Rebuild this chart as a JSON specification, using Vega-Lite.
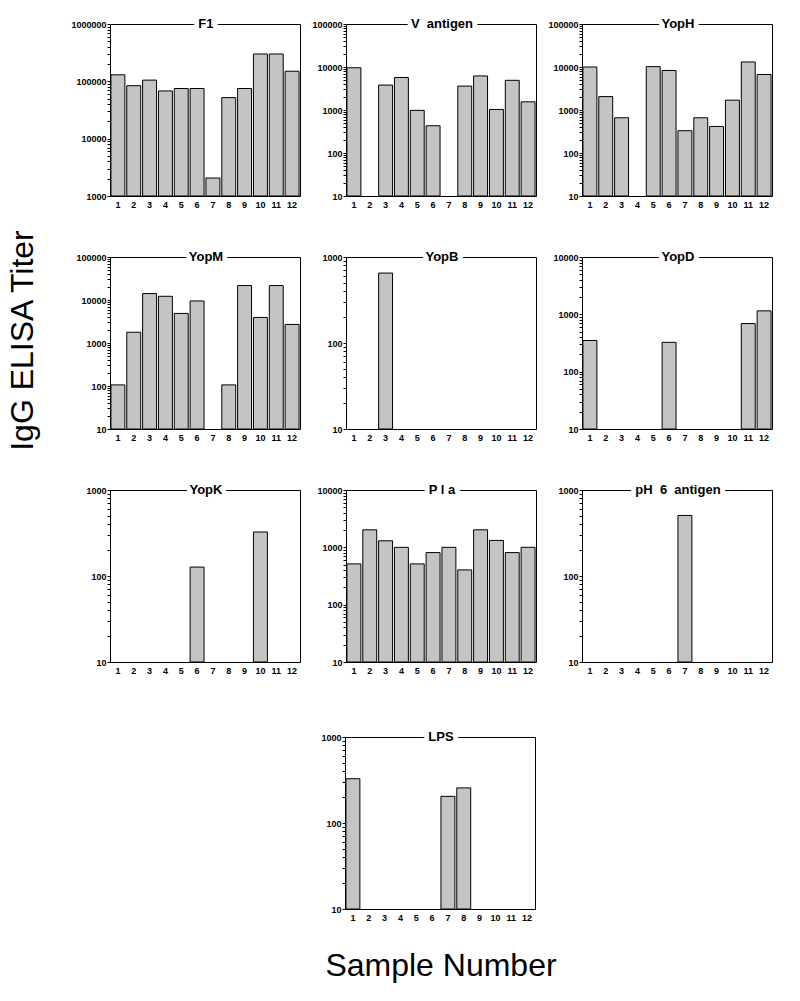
{
  "$schema": "https://vega.github.io/schema/vega-lite/v6.json",
  "background": "white",
  "padding": {"left": 7, "top": 17, "right": 5, "bottom": 5},
  "title": {"text": "Sample Number", "orient": "bottom", "anchor": "middle", "font": "Liberation Sans", "fontSize": 32, "fontWeight": "normal", "color": "#000", "offset": 28, "dx": 51},
  "datasets": {
    "titers": [
      {"panel": "F1", "sample": 1, "titer": 130000},
      {"panel": "F1", "sample": 2, "titer": 84000},
      {"panel": "F1", "sample": 3, "titer": 105000},
      {"panel": "F1", "sample": 4, "titer": 68000},
      {"panel": "F1", "sample": 5, "titer": 75000},
      {"panel": "F1", "sample": 6, "titer": 75000},
      {"panel": "F1", "sample": 7, "titer": 2060},
      {"panel": "F1", "sample": 8, "titer": 52000},
      {"panel": "F1", "sample": 9, "titer": 75000},
      {"panel": "F1", "sample": 10, "titer": 300000},
      {"panel": "F1", "sample": 11, "titer": 300000},
      {"panel": "F1", "sample": 12, "titer": 150000},
      {"panel": "V antigen", "sample": 1, "titer": 9600},
      {"panel": "V antigen", "sample": 3, "titer": 3800},
      {"panel": "V antigen", "sample": 4, "titer": 5700},
      {"panel": "V antigen", "sample": 5, "titer": 980},
      {"panel": "V antigen", "sample": 6, "titer": 430},
      {"panel": "V antigen", "sample": 8, "titer": 3600},
      {"panel": "V antigen", "sample": 9, "titer": 6200},
      {"panel": "V antigen", "sample": 10, "titer": 1030},
      {"panel": "V antigen", "sample": 11, "titer": 4900},
      {"panel": "V antigen", "sample": 12, "titer": 1550},
      {"panel": "YopH", "sample": 1, "titer": 10000},
      {"panel": "YopH", "sample": 2, "titer": 2050},
      {"panel": "YopH", "sample": 3, "titer": 660},
      {"panel": "YopH", "sample": 5, "titer": 10200},
      {"panel": "YopH", "sample": 6, "titer": 8300},
      {"panel": "YopH", "sample": 7, "titer": 330},
      {"panel": "YopH", "sample": 8, "titer": 660},
      {"panel": "YopH", "sample": 9, "titer": 415},
      {"panel": "YopH", "sample": 10, "titer": 1690},
      {"panel": "YopH", "sample": 11, "titer": 13100},
      {"panel": "YopH", "sample": 12, "titer": 6700},
      {"panel": "YopM", "sample": 1, "titer": 106},
      {"panel": "YopM", "sample": 2, "titer": 1780},
      {"panel": "YopM", "sample": 3, "titer": 14100},
      {"panel": "YopM", "sample": 4, "titer": 12200},
      {"panel": "YopM", "sample": 5, "titer": 4870},
      {"panel": "YopM", "sample": 6, "titer": 9500},
      {"panel": "YopM", "sample": 8, "titer": 106},
      {"panel": "YopM", "sample": 9, "titer": 21700},
      {"panel": "YopM", "sample": 10, "titer": 3930},
      {"panel": "YopM", "sample": 11, "titer": 21700},
      {"panel": "YopM", "sample": 12, "titer": 2700},
      {"panel": "YopB", "sample": 3, "titer": 650},
      {"panel": "YopD", "sample": 1, "titer": 350},
      {"panel": "YopD", "sample": 6, "titer": 325},
      {"panel": "YopD", "sample": 11, "titer": 690},
      {"panel": "YopD", "sample": 12, "titer": 1150},
      {"panel": "YopK", "sample": 6, "titer": 127},
      {"panel": "YopK", "sample": 10, "titer": 325},
      {"panel": "Pla", "sample": 1, "titer": 514},
      {"panel": "Pla", "sample": 2, "titer": 2020},
      {"panel": "Pla", "sample": 3, "titer": 1300},
      {"panel": "Pla", "sample": 4, "titer": 1000},
      {"panel": "Pla", "sample": 5, "titer": 514},
      {"panel": "Pla", "sample": 6, "titer": 810},
      {"panel": "Pla", "sample": 7, "titer": 1000},
      {"panel": "Pla", "sample": 8, "titer": 404},
      {"panel": "Pla", "sample": 9, "titer": 2020},
      {"panel": "Pla", "sample": 10, "titer": 1320},
      {"panel": "Pla", "sample": 11, "titer": 810},
      {"panel": "Pla", "sample": 12, "titer": 1000},
      {"panel": "pH 6 antigen", "sample": 7, "titer": 506},
      {"panel": "LPS", "sample": 1, "titer": 327},
      {"panel": "LPS", "sample": 7, "titer": 204},
      {"panel": "LPS", "sample": 8, "titer": 256}
    ]
  },
  "spacing": 54,
  "vconcat": [
    {
      "title": {"text": "IgG ELISA Titer", "orient": "left", "anchor": "middle", "font": "Liberation Sans", "fontSize": 32, "fontWeight": "normal", "color": "#000", "offset": 30, "dx": 6},
      "columns": 3,
      "spacing": {"row": 40, "column": 10},
      "concat": [
        {"width": 190, "height": 172, "layer": [
          {"data": {"name": "titers"}, "transform": [{"filter": "datum.panel === 'F1'"}], "mark": {"type": "bar", "fill": "#c4c4c4", "stroke": "#000", "strokeWidth": 1},
           "encoding": {"x": {"field": "sample", "type": "ordinal", "scale": {"domain": [1,2,3,4,5,6,7,8,9,10,11,12], "paddingInner": 0.12, "paddingOuter": 0.06}, "axis": {"title": null}},
                        "y": {"field": "titer", "type": "quantitative", "scale": {"type": "log", "domain": [1000, 1000000]}, "axis": {"title": null, "tickCount": 10, "labelOverlap": false, "labelExpr": "abs(log(datum.value)/LN10 - round(log(datum.value)/LN10)) < 0.001 ? format(datum.value, 'd') : ''"}},
                        "y2": {"datum": 1000}}},
          {"data": {"values": [{"label": "F1"}]}, "mark": {"type": "text", "font": "Liberation Sans", "fontSize": 13, "fontWeight": "bold", "align": "center", "baseline": "middle", "fill": "white", "stroke": "white", "strokeWidth": 10, "strokeJoin": "round"},
           "encoding": {"x": {"datum": 7, "type": "ordinal", "bandPosition": 0, "scale": {"domain": [1,2,3,4,5,6,7,8,9,10,11,12], "paddingInner": 0.12, "paddingOuter": 0.06}}, "y": {"datum": 1000000, "type": "quantitative", "scale": {"type": "log", "domain": [1000, 1000000]}}, "text": {"field": "label"}}},
          {"data": {"values": [{"label": "F1"}]}, "mark": {"type": "text", "font": "Liberation Sans", "fontSize": 13, "fontWeight": "bold", "align": "center", "baseline": "middle", "fill": "#000"},
           "encoding": {"x": {"datum": 7, "type": "ordinal", "bandPosition": 0, "scale": {"domain": [1,2,3,4,5,6,7,8,9,10,11,12], "paddingInner": 0.12, "paddingOuter": 0.06}}, "y": {"datum": 1000000, "type": "quantitative", "scale": {"type": "log", "domain": [1000, 1000000]}}, "text": {"field": "label"}}}
        ]},
        {"width": 190, "height": 172, "layer": [
          {"data": {"name": "titers"}, "transform": [{"filter": "datum.panel === 'V antigen'"}], "mark": {"type": "bar", "fill": "#c4c4c4", "stroke": "#000", "strokeWidth": 1},
           "encoding": {"x": {"field": "sample", "type": "ordinal", "scale": {"domain": [1,2,3,4,5,6,7,8,9,10,11,12], "paddingInner": 0.12, "paddingOuter": 0.06}, "axis": {"title": null}},
                        "y": {"field": "titer", "type": "quantitative", "scale": {"type": "log", "domain": [10, 100000]}, "axis": {"title": null, "tickCount": 10, "labelOverlap": false, "labelExpr": "abs(log(datum.value)/LN10 - round(log(datum.value)/LN10)) < 0.001 ? format(datum.value, 'd') : ''"}},
                        "y2": {"datum": 10}}},
          {"data": {"values": [{"label": "V\u00a0\u00a0antigen"}]}, "mark": {"type": "text", "font": "Liberation Sans", "fontSize": 13, "fontWeight": "bold", "align": "center", "baseline": "middle", "fill": "white", "stroke": "white", "strokeWidth": 10, "strokeJoin": "round"},
           "encoding": {"x": {"datum": 7, "type": "ordinal", "bandPosition": 0, "scale": {"domain": [1,2,3,4,5,6,7,8,9,10,11,12], "paddingInner": 0.12, "paddingOuter": 0.06}}, "y": {"datum": 100000, "type": "quantitative", "scale": {"type": "log", "domain": [10, 100000]}}, "text": {"field": "label"}}},
          {"data": {"values": [{"label": "V\u00a0\u00a0antigen"}]}, "mark": {"type": "text", "font": "Liberation Sans", "fontSize": 13, "fontWeight": "bold", "align": "center", "baseline": "middle", "fill": "#000"},
           "encoding": {"x": {"datum": 7, "type": "ordinal", "bandPosition": 0, "scale": {"domain": [1,2,3,4,5,6,7,8,9,10,11,12], "paddingInner": 0.12, "paddingOuter": 0.06}}, "y": {"datum": 100000, "type": "quantitative", "scale": {"type": "log", "domain": [10, 100000]}}, "text": {"field": "label"}}}
        ]},
        {"width": 190, "height": 172, "layer": [
          {"data": {"name": "titers"}, "transform": [{"filter": "datum.panel === 'YopH'"}], "mark": {"type": "bar", "fill": "#c4c4c4", "stroke": "#000", "strokeWidth": 1},
           "encoding": {"x": {"field": "sample", "type": "ordinal", "scale": {"domain": [1,2,3,4,5,6,7,8,9,10,11,12], "paddingInner": 0.12, "paddingOuter": 0.06}, "axis": {"title": null}},
                        "y": {"field": "titer", "type": "quantitative", "scale": {"type": "log", "domain": [10, 100000]}, "axis": {"title": null, "tickCount": 10, "labelOverlap": false, "labelExpr": "abs(log(datum.value)/LN10 - round(log(datum.value)/LN10)) < 0.001 ? format(datum.value, 'd') : ''"}},
                        "y2": {"datum": 10}}},
          {"data": {"values": [{"label": "YopH"}]}, "mark": {"type": "text", "font": "Liberation Sans", "fontSize": 13, "fontWeight": "bold", "align": "center", "baseline": "middle", "fill": "white", "stroke": "white", "strokeWidth": 10, "strokeJoin": "round"},
           "encoding": {"x": {"datum": 7, "type": "ordinal", "bandPosition": 0, "scale": {"domain": [1,2,3,4,5,6,7,8,9,10,11,12], "paddingInner": 0.12, "paddingOuter": 0.06}}, "y": {"datum": 100000, "type": "quantitative", "scale": {"type": "log", "domain": [10, 100000]}}, "text": {"field": "label"}}},
          {"data": {"values": [{"label": "YopH"}]}, "mark": {"type": "text", "font": "Liberation Sans", "fontSize": 13, "fontWeight": "bold", "align": "center", "baseline": "middle", "fill": "#000"},
           "encoding": {"x": {"datum": 7, "type": "ordinal", "bandPosition": 0, "scale": {"domain": [1,2,3,4,5,6,7,8,9,10,11,12], "paddingInner": 0.12, "paddingOuter": 0.06}}, "y": {"datum": 100000, "type": "quantitative", "scale": {"type": "log", "domain": [10, 100000]}}, "text": {"field": "label"}}}
        ]},
        {"width": 190, "height": 172, "layer": [
          {"data": {"name": "titers"}, "transform": [{"filter": "datum.panel === 'YopM'"}], "mark": {"type": "bar", "fill": "#c4c4c4", "stroke": "#000", "strokeWidth": 1},
           "encoding": {"x": {"field": "sample", "type": "ordinal", "scale": {"domain": [1,2,3,4,5,6,7,8,9,10,11,12], "paddingInner": 0.12, "paddingOuter": 0.06}, "axis": {"title": null}},
                        "y": {"field": "titer", "type": "quantitative", "scale": {"type": "log", "domain": [10, 100000]}, "axis": {"title": null, "tickCount": 10, "labelOverlap": false, "labelExpr": "abs(log(datum.value)/LN10 - round(log(datum.value)/LN10)) < 0.001 ? format(datum.value, 'd') : ''"}},
                        "y2": {"datum": 10}}},
          {"data": {"values": [{"label": "YopM"}]}, "mark": {"type": "text", "font": "Liberation Sans", "fontSize": 13, "fontWeight": "bold", "align": "center", "baseline": "middle", "fill": "white", "stroke": "white", "strokeWidth": 10, "strokeJoin": "round"},
           "encoding": {"x": {"datum": 7, "type": "ordinal", "bandPosition": 0, "scale": {"domain": [1,2,3,4,5,6,7,8,9,10,11,12], "paddingInner": 0.12, "paddingOuter": 0.06}}, "y": {"datum": 100000, "type": "quantitative", "scale": {"type": "log", "domain": [10, 100000]}}, "text": {"field": "label"}}},
          {"data": {"values": [{"label": "YopM"}]}, "mark": {"type": "text", "font": "Liberation Sans", "fontSize": 13, "fontWeight": "bold", "align": "center", "baseline": "middle", "fill": "#000"},
           "encoding": {"x": {"datum": 7, "type": "ordinal", "bandPosition": 0, "scale": {"domain": [1,2,3,4,5,6,7,8,9,10,11,12], "paddingInner": 0.12, "paddingOuter": 0.06}}, "y": {"datum": 100000, "type": "quantitative", "scale": {"type": "log", "domain": [10, 100000]}}, "text": {"field": "label"}}}
        ]},
        {"width": 190, "height": 172, "layer": [
          {"data": {"name": "titers"}, "transform": [{"filter": "datum.panel === 'YopB'"}], "mark": {"type": "bar", "fill": "#c4c4c4", "stroke": "#000", "strokeWidth": 1},
           "encoding": {"x": {"field": "sample", "type": "ordinal", "scale": {"domain": [1,2,3,4,5,6,7,8,9,10,11,12], "paddingInner": 0.12, "paddingOuter": 0.06}, "axis": {"title": null}},
                        "y": {"field": "titer", "type": "quantitative", "scale": {"type": "log", "domain": [10, 1000]}, "axis": {"title": null, "tickCount": 10, "labelOverlap": false, "labelExpr": "abs(log(datum.value)/LN10 - round(log(datum.value)/LN10)) < 0.001 ? format(datum.value, 'd') : ''"}},
                        "y2": {"datum": 10}}},
          {"data": {"values": [{"label": "YopB"}]}, "mark": {"type": "text", "font": "Liberation Sans", "fontSize": 13, "fontWeight": "bold", "align": "center", "baseline": "middle", "fill": "white", "stroke": "white", "strokeWidth": 10, "strokeJoin": "round"},
           "encoding": {"x": {"datum": 7, "type": "ordinal", "bandPosition": 0, "scale": {"domain": [1,2,3,4,5,6,7,8,9,10,11,12], "paddingInner": 0.12, "paddingOuter": 0.06}}, "y": {"datum": 1000, "type": "quantitative", "scale": {"type": "log", "domain": [10, 1000]}}, "text": {"field": "label"}}},
          {"data": {"values": [{"label": "YopB"}]}, "mark": {"type": "text", "font": "Liberation Sans", "fontSize": 13, "fontWeight": "bold", "align": "center", "baseline": "middle", "fill": "#000"},
           "encoding": {"x": {"datum": 7, "type": "ordinal", "bandPosition": 0, "scale": {"domain": [1,2,3,4,5,6,7,8,9,10,11,12], "paddingInner": 0.12, "paddingOuter": 0.06}}, "y": {"datum": 1000, "type": "quantitative", "scale": {"type": "log", "domain": [10, 1000]}}, "text": {"field": "label"}}}
        ]},
        {"width": 190, "height": 172, "layer": [
          {"data": {"name": "titers"}, "transform": [{"filter": "datum.panel === 'YopD'"}], "mark": {"type": "bar", "fill": "#c4c4c4", "stroke": "#000", "strokeWidth": 1},
           "encoding": {"x": {"field": "sample", "type": "ordinal", "scale": {"domain": [1,2,3,4,5,6,7,8,9,10,11,12], "paddingInner": 0.12, "paddingOuter": 0.06}, "axis": {"title": null}},
                        "y": {"field": "titer", "type": "quantitative", "scale": {"type": "log", "domain": [10, 10000]}, "axis": {"title": null, "tickCount": 10, "labelOverlap": false, "labelExpr": "abs(log(datum.value)/LN10 - round(log(datum.value)/LN10)) < 0.001 ? format(datum.value, 'd') : ''"}},
                        "y2": {"datum": 10}}},
          {"data": {"values": [{"label": "YopD"}]}, "mark": {"type": "text", "font": "Liberation Sans", "fontSize": 13, "fontWeight": "bold", "align": "center", "baseline": "middle", "fill": "white", "stroke": "white", "strokeWidth": 10, "strokeJoin": "round"},
           "encoding": {"x": {"datum": 7, "type": "ordinal", "bandPosition": 0, "scale": {"domain": [1,2,3,4,5,6,7,8,9,10,11,12], "paddingInner": 0.12, "paddingOuter": 0.06}}, "y": {"datum": 10000, "type": "quantitative", "scale": {"type": "log", "domain": [10, 10000]}}, "text": {"field": "label"}}},
          {"data": {"values": [{"label": "YopD"}]}, "mark": {"type": "text", "font": "Liberation Sans", "fontSize": 13, "fontWeight": "bold", "align": "center", "baseline": "middle", "fill": "#000"},
           "encoding": {"x": {"datum": 7, "type": "ordinal", "bandPosition": 0, "scale": {"domain": [1,2,3,4,5,6,7,8,9,10,11,12], "paddingInner": 0.12, "paddingOuter": 0.06}}, "y": {"datum": 10000, "type": "quantitative", "scale": {"type": "log", "domain": [10, 10000]}}, "text": {"field": "label"}}}
        ]},
        {"width": 190, "height": 172, "layer": [
          {"data": {"name": "titers"}, "transform": [{"filter": "datum.panel === 'YopK'"}], "mark": {"type": "bar", "fill": "#c4c4c4", "stroke": "#000", "strokeWidth": 1},
           "encoding": {"x": {"field": "sample", "type": "ordinal", "scale": {"domain": [1,2,3,4,5,6,7,8,9,10,11,12], "paddingInner": 0.12, "paddingOuter": 0.06}, "axis": {"title": null}},
                        "y": {"field": "titer", "type": "quantitative", "scale": {"type": "log", "domain": [10, 1000]}, "axis": {"title": null, "tickCount": 10, "labelOverlap": false, "labelExpr": "abs(log(datum.value)/LN10 - round(log(datum.value)/LN10)) < 0.001 ? format(datum.value, 'd') : ''"}},
                        "y2": {"datum": 10}}},
          {"data": {"values": [{"label": "YopK"}]}, "mark": {"type": "text", "font": "Liberation Sans", "fontSize": 13, "fontWeight": "bold", "align": "center", "baseline": "middle", "fill": "white", "stroke": "white", "strokeWidth": 10, "strokeJoin": "round"},
           "encoding": {"x": {"datum": 7, "type": "ordinal", "bandPosition": 0, "scale": {"domain": [1,2,3,4,5,6,7,8,9,10,11,12], "paddingInner": 0.12, "paddingOuter": 0.06}}, "y": {"datum": 1000, "type": "quantitative", "scale": {"type": "log", "domain": [10, 1000]}}, "text": {"field": "label"}}},
          {"data": {"values": [{"label": "YopK"}]}, "mark": {"type": "text", "font": "Liberation Sans", "fontSize": 13, "fontWeight": "bold", "align": "center", "baseline": "middle", "fill": "#000"},
           "encoding": {"x": {"datum": 7, "type": "ordinal", "bandPosition": 0, "scale": {"domain": [1,2,3,4,5,6,7,8,9,10,11,12], "paddingInner": 0.12, "paddingOuter": 0.06}}, "y": {"datum": 1000, "type": "quantitative", "scale": {"type": "log", "domain": [10, 1000]}}, "text": {"field": "label"}}}
        ]},
        {"width": 190, "height": 172, "layer": [
          {"data": {"name": "titers"}, "transform": [{"filter": "datum.panel === 'Pla'"}], "mark": {"type": "bar", "fill": "#c4c4c4", "stroke": "#000", "strokeWidth": 1},
           "encoding": {"x": {"field": "sample", "type": "ordinal", "scale": {"domain": [1,2,3,4,5,6,7,8,9,10,11,12], "paddingInner": 0.12, "paddingOuter": 0.06}, "axis": {"title": null}},
                        "y": {"field": "titer", "type": "quantitative", "scale": {"type": "log", "domain": [10, 10000]}, "axis": {"title": null, "tickCount": 10, "labelOverlap": false, "labelExpr": "abs(log(datum.value)/LN10 - round(log(datum.value)/LN10)) < 0.001 ? format(datum.value, 'd') : ''"}},
                        "y2": {"datum": 10}}},
          {"data": {"values": [{"label": "P l a"}]}, "mark": {"type": "text", "font": "Liberation Sans", "fontSize": 13, "fontWeight": "bold", "align": "center", "baseline": "middle", "fill": "white", "stroke": "white", "strokeWidth": 10, "strokeJoin": "round"},
           "encoding": {"x": {"datum": 7, "type": "ordinal", "bandPosition": 0, "scale": {"domain": [1,2,3,4,5,6,7,8,9,10,11,12], "paddingInner": 0.12, "paddingOuter": 0.06}}, "y": {"datum": 10000, "type": "quantitative", "scale": {"type": "log", "domain": [10, 10000]}}, "text": {"field": "label"}}},
          {"data": {"values": [{"label": "P l a"}]}, "mark": {"type": "text", "font": "Liberation Sans", "fontSize": 13, "fontWeight": "bold", "align": "center", "baseline": "middle", "fill": "#000"},
           "encoding": {"x": {"datum": 7, "type": "ordinal", "bandPosition": 0, "scale": {"domain": [1,2,3,4,5,6,7,8,9,10,11,12], "paddingInner": 0.12, "paddingOuter": 0.06}}, "y": {"datum": 10000, "type": "quantitative", "scale": {"type": "log", "domain": [10, 10000]}}, "text": {"field": "label"}}}
        ]},
        {"width": 190, "height": 172, "layer": [
          {"data": {"name": "titers"}, "transform": [{"filter": "datum.panel === 'pH 6 antigen'"}], "mark": {"type": "bar", "fill": "#c4c4c4", "stroke": "#000", "strokeWidth": 1},
           "encoding": {"x": {"field": "sample", "type": "ordinal", "scale": {"domain": [1,2,3,4,5,6,7,8,9,10,11,12], "paddingInner": 0.12, "paddingOuter": 0.06}, "axis": {"title": null}},
                        "y": {"field": "titer", "type": "quantitative", "scale": {"type": "log", "domain": [10, 1000]}, "axis": {"title": null, "tickCount": 10, "labelOverlap": false, "labelExpr": "abs(log(datum.value)/LN10 - round(log(datum.value)/LN10)) < 0.001 ? format(datum.value, 'd') : ''"}},
                        "y2": {"datum": 10}}},
          {"data": {"values": [{"label": "pH\u00a0\u00a06\u00a0\u00a0antigen"}]}, "mark": {"type": "text", "font": "Liberation Sans", "fontSize": 13, "fontWeight": "bold", "align": "center", "baseline": "middle", "fill": "white", "stroke": "white", "strokeWidth": 10, "strokeJoin": "round"},
           "encoding": {"x": {"datum": 7, "type": "ordinal", "bandPosition": 0, "scale": {"domain": [1,2,3,4,5,6,7,8,9,10,11,12], "paddingInner": 0.12, "paddingOuter": 0.06}}, "y": {"datum": 1000, "type": "quantitative", "scale": {"type": "log", "domain": [10, 1000]}}, "text": {"field": "label"}}},
          {"data": {"values": [{"label": "pH\u00a0\u00a06\u00a0\u00a0antigen"}]}, "mark": {"type": "text", "font": "Liberation Sans", "fontSize": 13, "fontWeight": "bold", "align": "center", "baseline": "middle", "fill": "#000"},
           "encoding": {"x": {"datum": 7, "type": "ordinal", "bandPosition": 0, "scale": {"domain": [1,2,3,4,5,6,7,8,9,10,11,12], "paddingInner": 0.12, "paddingOuter": 0.06}}, "y": {"datum": 1000, "type": "quantitative", "scale": {"type": "log", "domain": [10, 1000]}}, "text": {"field": "label"}}}
        ]}
      ]
    },
    {
      "spacing": 10,
      "hconcat": [
        {"width": 200, "height": 10, "view": {"stroke": null}, "data": {"values": []}, "mark": "point", "encoding": {}},
        {"width": 190, "height": 172, "layer": [
          {"data": {"name": "titers"}, "transform": [{"filter": "datum.panel === 'LPS'"}], "mark": {"type": "bar", "fill": "#c4c4c4", "stroke": "#000", "strokeWidth": 1},
           "encoding": {"x": {"field": "sample", "type": "ordinal", "scale": {"domain": [1,2,3,4,5,6,7,8,9,10,11,12], "paddingInner": 0.12, "paddingOuter": 0.06}, "axis": {"title": null}},
                        "y": {"field": "titer", "type": "quantitative", "scale": {"type": "log", "domain": [10, 1000]}, "axis": {"title": null, "tickCount": 10, "labelOverlap": false, "labelExpr": "abs(log(datum.value)/LN10 - round(log(datum.value)/LN10)) < 0.001 ? format(datum.value, 'd') : ''"}},
                        "y2": {"datum": 10}}},
          {"data": {"values": [{"label": "LPS"}]}, "mark": {"type": "text", "font": "Liberation Sans", "fontSize": 13, "fontWeight": "bold", "align": "center", "baseline": "middle", "fill": "white", "stroke": "white", "strokeWidth": 10, "strokeJoin": "round"},
           "encoding": {"x": {"datum": 7, "type": "ordinal", "bandPosition": 0, "scale": {"domain": [1,2,3,4,5,6,7,8,9,10,11,12], "paddingInner": 0.12, "paddingOuter": 0.06}}, "y": {"datum": 1000, "type": "quantitative", "scale": {"type": "log", "domain": [10, 1000]}}, "text": {"field": "label"}}},
          {"data": {"values": [{"label": "LPS"}]}, "mark": {"type": "text", "font": "Liberation Sans", "fontSize": 13, "fontWeight": "bold", "align": "center", "baseline": "middle", "fill": "#000"},
           "encoding": {"x": {"datum": 7, "type": "ordinal", "bandPosition": 0, "scale": {"domain": [1,2,3,4,5,6,7,8,9,10,11,12], "paddingInner": 0.12, "paddingOuter": 0.06}}, "y": {"datum": 1000, "type": "quantitative", "scale": {"type": "log", "domain": [10, 1000]}}, "text": {"field": "label"}}}
        ]}
      ]
    }
  ],
  "config": {
    "view": {"stroke": "#000", "strokeWidth": 1},
    "axisX": {"labelAngle": 0, "ticks": false, "domain": false, "grid": false, "labelFont": "Liberation Sans", "labelFontWeight": "bold", "labelFontSize": 9, "labelColor": "#000", "labelPadding": 4},
    "axisY": {"domain": false, "grid": false, "ticks": true, "tickSize": 3, "tickColor": "#000", "tickWidth": 1, "labelFont": "Liberation Sans", "labelFontWeight": "bold", "labelFontSize": 9, "labelColor": "#000", "labelPadding": 1}
  }
}
